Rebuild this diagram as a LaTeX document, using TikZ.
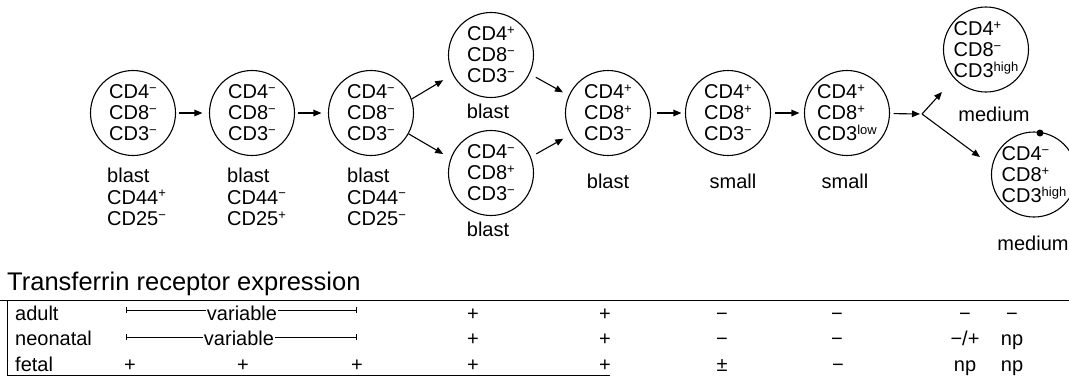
\documentclass[tikz,border=0pt]{standalone}
\usepackage{fontspec}
\setmainfont{Liberation Sans}
\usetikzlibrary{arrows.meta}
\newcommand\Su[1]{\raisebox{0.6ex}{\fontsize{13}{13}\selectfont #1}}
\newcommand\Mi{\Su{−}}
\newcommand\Pl{\Su{+}}
\newcommand\Hi{\Su{high}}
\newcommand\Lo{\Su{low}}
\begin{document}
\begin{tikzpicture}[x=1pt,y=-1pt,
  cell/.style={circle,draw,line width=1.1pt,minimum size=85pt,inner sep=0pt},
  ctext/.style={align=left,font=\fontsize{20}{21}\selectfont,inner sep=0pt},
  lab/.style={align=left,font=\fontsize{20}{21.5}\selectfont,inner sep=0pt,anchor=north west},
  one/.style={font=\fontsize{20}{20}\selectfont,inner sep=0pt,anchor=base},
  arr/.style={-{Triangle[length=8pt,width=6.5pt]},line width=1.1pt},
  ent/.style={font=\fontsize{20}{20}\selectfont,inner sep=0pt,anchor=base},
  varline/.style={{Bar[width=6pt]}-{Bar[width=6pt]},line width=1pt}
]
\useasboundingbox (0,0) rectangle (1069,376);

% cells
\node[cell] (c1) at (133,113) {};
\node[cell] (c2) at (252,113) {};
\node[cell] (c3) at (371,113) {};
\node[cell] (c4a) at (491,55) {};
\node[cell] (c4b) at (491,173) {};
\node[cell] (c5) at (608,113) {};
\node[cell] (c6) at (728,113) {};
\node[cell] (c7) at (847,113) {};
\node[cell] (c8a) at (986,49.5) {};
\node[cell] (c8b) at (1034,174.5) {};

\node[ctext] (x1) at (c1) {CD4\Mi\\CD8\Mi\\CD3\Mi};
\node[ctext] (x2) at (c2) {CD4\Mi\\CD8\Mi\\CD3\Mi};
\node[ctext] (x3) at (c3) {CD4\Mi\\CD8\Mi\\CD3\Mi};
\node[ctext] (x4a) at (c4a) {CD4\Pl\\CD8\Mi\\CD3\Mi};
\node[ctext] (x4b) at (c4b) {CD4\Mi\\CD8\Pl\\CD3\Mi};
\node[ctext] (x5) at (c5) {CD4\Pl\\CD8\Pl\\CD3\Mi};
\node[ctext] (x6) at (c6) {CD4\Pl\\CD8\Pl\\CD3\Mi};
\node[ctext] (x7) at (c7) {CD4\Pl\\CD8\Pl\\CD3\Lo};
\node[ctext] (x8a) at (c8a) {CD4\Pl\\CD8\Mi\\CD3\Hi};
\node[ctext] (x8b) at (c8b) {CD4\Mi\\CD8\Pl\\CD3\Hi};
\node[circle,fill,inner sep=0pt,minimum size=7pt] (dot) at (1040,133) {};

% labels
\node[lab] (l1) at (107,168) {blast\\CD44\Pl\\CD25\Mi};
\node[lab] (l2) at (227,168) {blast\\CD44\Mi\\CD25\Pl};
\node[lab] (l3) at (347,168) {blast\\CD44\Mi\\CD25\Mi};
\node[one] (l4a) at (488,118) {blast};
\node[one] (l4b) at (488,236) {blast};
\node[one] (l5) at (608,188) {blast};
\node[one] (l6) at (733,188) {small};
\node[one] (l7) at (845,188) {small};
\node[one] (l8a) at (994,121) {medium};
\node[one] (l8b) at (1033,250) {medium};

% arrows
\draw[arr,shorten <=2.5pt,shorten >=6.5pt] (c1) -- (c2);
\draw[arr,shorten <=2.5pt,shorten >=6.5pt] (c2) -- (c3);
\draw[arr,shorten >=11pt] (c3.19) -- (c4a.207);
\draw[arr,shorten >=8.5pt] (c3.-29) -- (c4b.160);
\draw[arr,shorten <=7pt,shorten >=6.5pt] (c4a.-26) -- (c5.156);
\draw[arr,shorten <=6pt,shorten >=8.5pt] (c4b.22) -- (c5.210);
\draw[arr,shorten <=5.5pt,shorten >=3.5pt] (c5) -- (c6);
\draw[arr,shorten <=4pt,shorten >=4.5pt] (c6) -- (c7);
\coordinate (v) at (922,114);
\coordinate (ta) at (942,92);
\coordinate (tb) at (980,157);
\draw[arr,shorten <=3.5pt,shorten >=2pt] (c7) -- (v);
\draw[arr] (v) -- (ta);
\draw[arr] (v) -- (tb);

% table
\node[inner sep=0pt,anchor=base west,font=\fontsize{25.5}{25.5}\selectfont] (title) at (7,290) {Transferrin receptor expression};
\coordinate (tl) at (0,300);
\coordinate (tr) at (1069,300);
\coordinate (lt) at (7,300);
\coordinate (lb) at (7,376);
\coordinate (bl) at (7,375);
\coordinate (br) at (610,375);
\draw[line width=1pt] (tl) -- (tr);
\draw[line width=1pt] (lt) -- (lb);
\draw[line width=1pt] (bl) -- (br);

\node[ent,anchor=base west] (ra) at (15,320) {adult};
\node[ent,anchor=base west] (rn) at (15,345) {neonatal};
\node[ent,anchor=base west] (rf) at (15,371) {fetal};

\coordinate (va1) at (126,310);
\coordinate (va2) at (357,310);
\draw[varline] (va1) -- (va2);
\node[ent,fill=white,inner xsep=1pt] (va) at (242,320) {variable};
\coordinate (vn1) at (126,337);
\coordinate (vn2) at (357,337);
\draw[varline] (vn1) -- (vn2);
\node[ent,fill=white,inner xsep=1pt] (vn) at (239,345) {variable};

% adult
\node[ent] (a4) at (473,320) {+};
\node[ent] (a5) at (605,320) {+};
\node[ent] (a6) at (722,320) {−};
\node[ent] (a7) at (837,320) {−};
\node[ent] (a8) at (965,320) {−};
\node[ent] (a9) at (1012,320) {−};
% neonatal
\node[ent] (n4) at (473,345) {+};
\node[ent] (n5) at (605,345) {+};
\node[ent] (n6) at (722,345) {−};
\node[ent] (n7) at (837,345) {−};
\node[ent] (n8) at (965,345) {−/+};
\node[ent] (n9) at (1012,345) {np};
% fetal
\node[ent] (f1) at (130,371) {+};
\node[ent] (f2) at (243,371) {+};
\node[ent] (f3) at (357,371) {+};
\node[ent] (f4) at (473,371) {+};
\node[ent] (f5) at (605,371) {+};
\node[ent] (f6) at (722,371) {±};
\node[ent] (f7) at (838,371) {−};
\node[ent] (f8) at (965,371) {np};
\node[ent] (f9) at (1012,371) {np};
\end{tikzpicture}
\end{document}
